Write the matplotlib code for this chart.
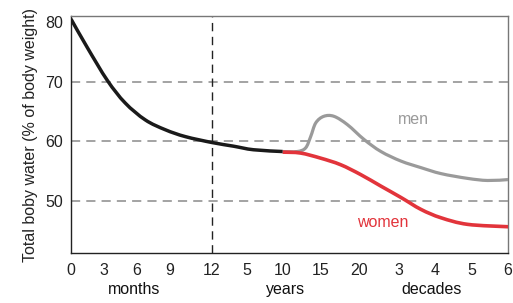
import matplotlib
matplotlib.use("Agg")
import matplotlib.pyplot as plt
from matplotlib.path import Path
from matplotlib.patches import PathPatch

plt.rcParams['font.family'] = ['Liberation Sans', 'DejaVu Sans']

# Tick labels along the composite age axis
tick_labels = ['0', '3', '6', '9', '12', '5', '10', '15', '20', '3', '4', '5', '6']
tick_pos = [0, 0.89, 1.80, 2.71, 3.86, 4.82, 5.81, 6.85, 7.90, 9.00, 10.00, 11.01, 12.0]
unit_labels = ['months', 'years', 'decades']

# Childhood (common) curve
child_x = [0, 0.45, 1.0, 1.486, 2.04, 2.59, 3.14, 3.88, 4.46, 5.01, 5.81]
child_y = [80.5, 75.7, 70.2, 66.45, 63.6, 61.95, 60.8, 59.8, 59.2, 58.6, 58.3]

# Men
men_x = [5.81, 6.21, 6.44, 6.58, 6.72, 6.94, 7.22, 7.59, 8.05, 8.51, 9.06, 9.61, 10.16, 10.89, 11.44, 12.0]
men_y = [58.3, 58.3, 58.9, 60.8, 63.1, 64.2, 64.2, 62.8, 60.3, 58.3, 56.7, 55.6, 54.6, 53.8, 53.45, 53.6]

# Women
women_x = [5.81, 6.30, 6.85, 7.40, 7.95, 8.51, 9.06, 9.61, 10.16, 10.89, 12.0]
women_y = [58.2, 58.05, 57.2, 56.1, 54.45, 52.5, 50.6, 48.6, 47.2, 46.1, 45.7]


def smooth_path(xs, ys):
    """Catmull-Rom curve through the points, rendered as cubic Bezier segments."""
    pts = list(zip(xs, ys))
    n = len(pts)
    verts = [pts[0]]
    codes = [Path.MOVETO]
    for i in range(n - 1):
        p0 = pts[i - 1] if i > 0 else pts[i]
        p1 = pts[i]
        p2 = pts[i + 1]
        p3 = pts[i + 2] if i + 2 < n else pts[i + 1]
        c1 = (p1[0] + (p2[0] - p0[0]) / 6.0, p1[1] + (p2[1] - p0[1]) / 6.0)
        c2 = (p2[0] - (p3[0] - p1[0]) / 6.0, p2[1] - (p3[1] - p1[1]) / 6.0)
        verts += [c1, c2, p2]
        codes += [Path.CURVE4] * 3
    return Path(verts, codes)


fig = plt.figure(figsize=(5.13, 3.03), dpi=100)
ax = fig.add_axes([0.1384, 0.165, 0.852, 0.782])

ax.set_xlim(0, 12)
ax.set_ylim(41.3, 81)

for yv in [50, 60, 70]:
    ax.axhline(yv, color='#8a8a8a', lw=1.1, ls=(0, (6, 4)), zorder=1)
ax.axvline(3.87, color='#222222', lw=1.0, ls=(0, (6, 4)), zorder=1)

for xs, ys, col, lw, z in [(men_x, men_y, '#9a9a9a', 2.3, 3),
                           (women_x, women_y, '#e2343b', 2.6, 4),
                           (child_x, child_y, '#1a1a1a', 2.5, 5)]:
    ax.add_patch(PathPatch(smooth_path(xs, ys), facecolor='none', edgecolor=col,
                           lw=lw, capstyle='butt', joinstyle='round', zorder=z,
                           clip_on=True))

ax.text(9.4, 63.7, 'men', color='#9a9a9a', fontsize=11.5, ha='center', va='center')
ax.text(8.55, 46.4, 'women', color='#e2343b', fontsize=11.5, ha='center', va='center')

ax.set_xticks(tick_pos)
ax.set_xticklabels(tick_labels)
ax.set_yticks([50, 60, 70, 80])
ax.tick_params(axis='both', length=0, labelsize=11.5, colors='#222222')
ax.tick_params(axis='x', pad=7)
ax.tick_params(axis='y', pad=6)

for s in ['left', 'bottom']:
    ax.spines[s].set_color('#222222')
for s in ['top', 'right']:
    ax.spines[s].set_color('#777777')
for s in ax.spines.values():
    s.set_linewidth(1.0)

ax.set_ylabel('Total boby water (% of body weight)', fontsize=11.5, color='#222222', labelpad=5)

unit_x = [1.72, 5.88, 9.90]
for ux, lab in zip(unit_x, unit_labels):
    ax.text(ux, -0.155, lab, transform=ax.get_xaxis_transform(), ha='center', va='center',
            fontsize=11.5, color='#111111')

fig.savefig('out.png', dpi=100)
